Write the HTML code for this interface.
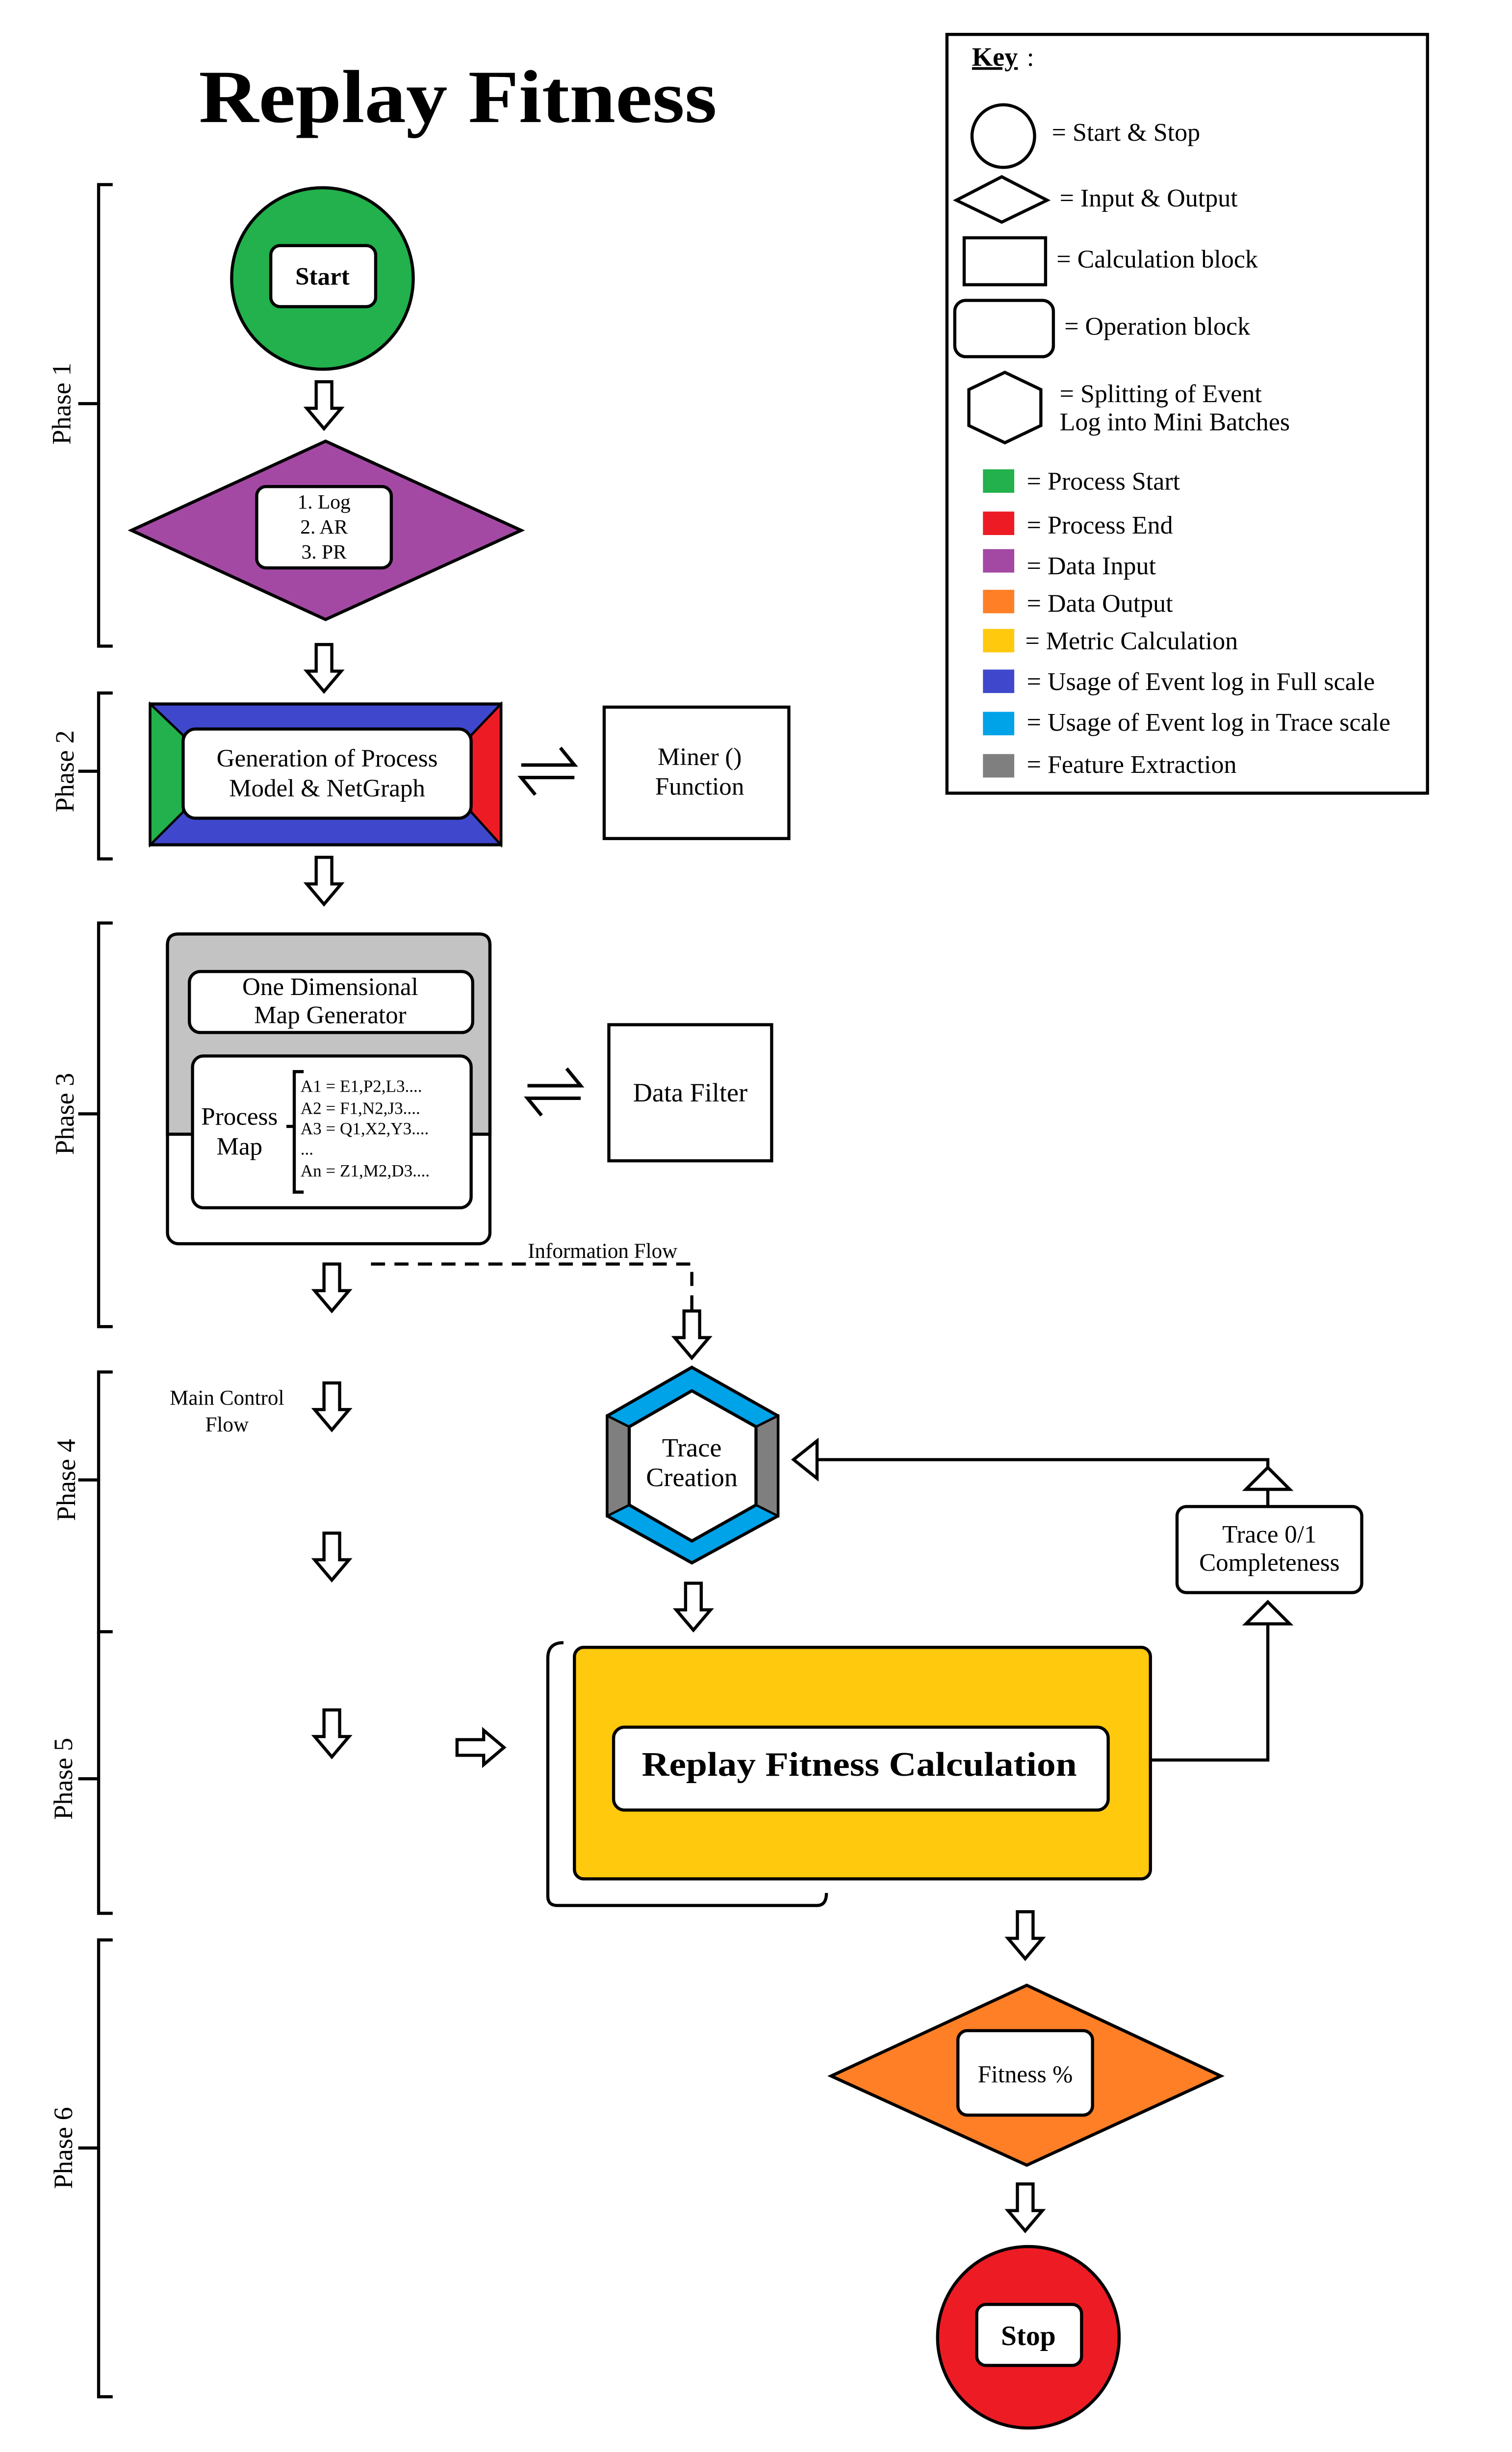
<!DOCTYPE html>
<html><head><meta charset="utf-8"><style>html,body{margin:0;padding:0;background:#fff;overflow:hidden;width:3083px;height:5168px}svg{position:absolute;left:0;top:0;display:block;width:3083px;height:5168px}</style></head><body>
<svg width="3083" height="5168" viewBox="0 0 966 1620" preserveAspectRatio="none" xmlns="http://www.w3.org/2000/svg" font-family="'Liberation Serif', serif">
<defs>
<path id="da" d="M-5 0 L5 0 L5 17 L11 17 L0 30 L-11 17 L-5 17 Z" fill="#fff" stroke="#000" stroke-width="2" stroke-linejoin="miter"/>
<g id="dbl" fill="none" stroke="#000" stroke-width="2.2">
<path d="M-17 -4 L17 -4 L8 -15"/><path d="M17 4 L-17 4 L-8 15"/>
</g>
</defs>
<rect width="966" height="1620" fill="#fff"/>
<text x="127" y="78" font-size="48" font-weight="bold" textLength="331" lengthAdjust="spacingAndGlyphs">Replay Fitness</text>

<g stroke="#000" stroke-width="2" fill="none">
<path d="M72 118 H63 V413 H72 M63 258 H50"/>
<path d="M72 443 H63 V549 H72 M63 493 H50"/>
<path d="M72 590 H63 V848 H72 M63 712 H50"/>
<path d="M72 877 H63 V1043 H72 M63 946 H50"/>
<path d="M63 1043 V1223 H72 M63 1137 H50"/>
<path d="M72 1240 H63 V1532 H72 M63 1373 H50"/>
</g>
<g font-size="17" text-anchor="middle">
<text transform="translate(45,258) rotate(-90)">Phase 1</text>
<text transform="translate(47,493) rotate(-90)">Phase 2</text>
<text transform="translate(47,712) rotate(-90)">Phase 3</text>
<text transform="translate(48,946) rotate(-90)">Phase 4</text>
<text transform="translate(46,1137) rotate(-90)">Phase 5</text>
<text transform="translate(46,1373) rotate(-90)">Phase 6</text>
</g>

<circle cx="206" cy="178" r="58" fill="#22b14c" stroke="#000" stroke-width="2"/>
<rect x="173" y="157" width="67" height="39" rx="6" fill="#fff" stroke="#000" stroke-width="2"/>
<text x="206" y="182" font-size="16" font-weight="bold" text-anchor="middle">Start</text>
<use href="#da" transform="translate(207,244)"/>

<polygon points="84,339 208,282 333,339 208,396" fill="#a349a4" stroke="#000" stroke-width="2"/>
<rect x="164" y="311" width="86" height="52" rx="6" fill="#fff" stroke="#000" stroke-width="2"/>
<g font-size="13" text-anchor="middle"><text x="207" y="325">1. Log</text><text x="207" y="341">2. AR</text><text x="207" y="357">3. PR</text></g>
<use href="#da" transform="translate(207,412)"/>

<rect x="96" y="450" width="224" height="90" fill="#3f48cc" stroke="#000" stroke-width="2"/>
<polygon points="96,450 117,470 117,519 96,540" fill="#22b14c" stroke="#000" stroke-width="1.5"/>
<polygon points="320,450 301,470 301,519 320,540" fill="#ed1c24" stroke="#000" stroke-width="1.5"/>
<rect x="117" y="466" width="184" height="57" rx="8" fill="#fff" stroke="#000" stroke-width="2"/>
<g font-size="16" text-anchor="middle"><text x="209" y="490">Generation of Process</text><text x="209" y="509">Model &amp; NetGraph</text></g>
<use href="#dbl" transform="translate(350,493)"/>
<rect x="386" y="452" width="118" height="84" fill="#fff" stroke="#000" stroke-width="2"/>
<g font-size="16" text-anchor="middle"><text x="447" y="489">Miner ()</text><text x="447" y="508">Function</text></g>
<use href="#da" transform="translate(207,548)"/>

<rect x="107" y="597" width="206" height="198" rx="7" fill="#fff" stroke="#000" stroke-width="2"/>
<path d="M114 597 H306 Q313 597 313 604 V725 H107 V604 Q107 597 114 597 Z" fill="#c3c3c3" stroke="#000" stroke-width="2"/>
<rect x="121" y="621" width="181" height="39" rx="7" fill="#fff" stroke="#000" stroke-width="2"/>
<g font-size="16" text-anchor="middle"><text x="211" y="636">One Dimensional</text><text x="211" y="654">Map Generator</text></g>
<rect x="123" y="675" width="178" height="97" rx="7" fill="#fff" stroke="#000" stroke-width="2"/>
<g font-size="16" text-anchor="middle"><text x="153" y="719">Process</text><text x="153" y="738">Map</text></g>
<path d="M194 685 H188 V762 H194 M183 720 H188" stroke="#000" stroke-width="2" fill="none"/>
<g font-size="11"><text x="192" y="698">A1 = E1,P2,L3....</text><text x="192" y="712">A2 = F1,N2,J3....</text><text x="192" y="725">A3 = Q1,X2,Y3....</text><text x="192" y="738">...</text><text x="192" y="752">An = Z1,M2,D3....</text></g>
<use href="#dbl" transform="translate(354,698)"/>
<rect x="389" y="655" width="104" height="87" fill="#fff" stroke="#000" stroke-width="2"/>
<text x="441" y="704" font-size="17" text-anchor="middle">Data Filter</text>

<use href="#da" transform="translate(212,808)"/>
<path d="M237 808 H442 V852" stroke="#000" stroke-width="2" fill="none" stroke-dasharray="9,6"/>
<use href="#da" transform="translate(442,838)"/>
<rect x="328" y="791" width="114" height="14" fill="#fff"/>
<text x="385" y="804" font-size="13.5" text-anchor="middle">Information Flow</text>

<g font-size="13.5" text-anchor="middle"><text x="145" y="898">Main Control</text><text x="145" y="915">Flow</text></g>
<use href="#da" transform="translate(212,884)"/>
<use href="#da" transform="translate(212,980)"/>
<use href="#da" transform="translate(212,1093)"/>
<path d="M292 1112 L309 1112 L309 1106 L322 1117 L309 1128 L309 1122 L292 1122 Z" fill="#fff" stroke="#000" stroke-width="2"/>

<polygon points="442,874 497,905 497,969 442,999 388,969 388,905" fill="#00a2e8" stroke="#000" stroke-width="2"/>
<polygon points="388,905 402,912 402,962 388,969" fill="#7f7f7f" stroke="#000" stroke-width="1.5"/>
<polygon points="497,905 483,912 483,962 497,969" fill="#7f7f7f" stroke="#000" stroke-width="1.5"/>
<polygon points="442,889 483,912 483,962 442,985 402,962 402,912" fill="#fff" stroke="#000" stroke-width="2"/>
<g font-size="17" text-anchor="middle"><text x="442" y="931">Trace</text><text x="442" y="950">Creation</text></g>
<use href="#da" transform="translate(443,1012)"/>

<path d="M360 1050 Q350 1050 350 1060 V1212 Q350 1218 356 1218 H522 Q528 1218 528 1210" stroke="#000" stroke-width="2" fill="none"/>
<rect x="367" y="1053" width="368" height="148" rx="6" fill="#ffc90e" stroke="#000" stroke-width="2"/>
<rect x="392" y="1104" width="316" height="53" rx="7" fill="#fff" stroke="#000" stroke-width="2"/>
<text x="410" y="1135" font-size="22" font-weight="bold" textLength="278" lengthAdjust="spacingAndGlyphs">Replay Fitness Calculation</text>

<path d="M735 1125 H810 V1038" stroke="#000" stroke-width="2" fill="none"/>
<polygon points="796,1038 810,1024 824,1038" fill="#fff" stroke="#000" stroke-width="2"/>
<rect x="752" y="963" width="118" height="55" rx="6" fill="#fff" stroke="#000" stroke-width="2"/>
<g font-size="16" text-anchor="middle"><text x="811" y="986">Trace 0/1</text><text x="811" y="1004">Completeness</text></g>
<path d="M810 963 V952" stroke="#000" stroke-width="2"/>
<polygon points="796,952 810,938 824,952" fill="#fff" stroke="#000" stroke-width="2"/>
<path d="M810 938 V933 H522" stroke="#000" stroke-width="2" fill="none"/>
<polygon points="522,921 507,933 522,945" fill="#fff" stroke="#000" stroke-width="2"/>

<use href="#da" transform="translate(655,1222)"/>
<polygon points="531,1327 656,1269 780,1327 656,1384" fill="#ff7f27" stroke="#000" stroke-width="2"/>
<rect x="612" y="1298" width="86" height="54" rx="6" fill="#fff" stroke="#000" stroke-width="2"/>
<text x="655" y="1331" font-size="15.5" text-anchor="middle">Fitness %</text>
<use href="#da" transform="translate(655,1396)"/>
<circle cx="657" cy="1494" r="58" fill="#ed1c24" stroke="#000" stroke-width="2"/>
<rect x="624" y="1473" width="67" height="39" rx="6" fill="#fff" stroke="#000" stroke-width="2"/>
<text x="657" y="1499" font-size="18" font-weight="bold" text-anchor="middle">Stop</text>

<rect x="605" y="22" width="307" height="485" fill="#fff" stroke="#000" stroke-width="2"/>
<text x="621" y="42" font-size="17" font-weight="bold" text-decoration="underline">Key</text><text x="656" y="42" font-size="17">:</text>
<circle cx="641" cy="87" r="20" fill="#fff" stroke="#000" stroke-width="2"/>
<polygon points="611,128 640,113 669,128 640,142" fill="#fff" stroke="#000" stroke-width="2"/>
<rect x="616" y="152" width="52" height="30" fill="#fff" stroke="#000" stroke-width="2"/>
<rect x="610" y="192" width="63" height="36" rx="7" fill="#fff" stroke="#000" stroke-width="2"/>
<polygon points="642,238 665,249 665,272 642,283 619,272 619,249" fill="#fff" stroke="#000" stroke-width="2"/>
<g font-size="16.3">
<text x="672" y="90">=  Start &amp; Stop</text>
<text x="677" y="132">= Input &amp; Output</text>
<text x="675" y="171">= Calculation block</text>
<text x="680" y="214">= Operation block</text>
<text x="677" y="257">= Splitting of Event</text>
<text x="677" y="275">Log into Mini Batches</text>
<text x="656" y="313">= Process Start</text>
<text x="656" y="341">= Process End</text>
<text x="656" y="367">= Data Input</text>
<text x="656" y="391">= Data Output</text>
<text x="655" y="415">= Metric Calculation</text>
<text x="656" y="441">= Usage of Event log in Full scale</text>
<text x="656" y="467">= Usage of Event log in Trace scale</text>
<text x="656" y="494">= Feature Extraction</text>
</g>
<rect x="628" y="300" width="20" height="15" fill="#22b14c"/>
<rect x="628" y="327" width="20" height="15" fill="#ed1c24"/>
<rect x="628" y="351" width="20" height="15" fill="#a349a4"/>
<rect x="628" y="377" width="20" height="15" fill="#ff7f27"/>
<rect x="628" y="402" width="20" height="15" fill="#ffc90e"/>
<rect x="628" y="428" width="20" height="15" fill="#3f48cc"/>
<rect x="628" y="455" width="20" height="15" fill="#00a2e8"/>
<rect x="628" y="482" width="20" height="15" fill="#7f7f7f"/>
</svg>
</body></html>
